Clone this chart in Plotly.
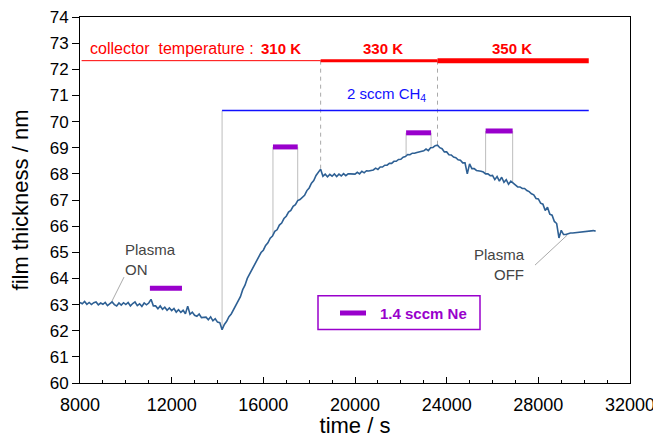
import plotly.graph_objects as go

# ---------------- data ----------------
time_s = list(range(8000, 30501, 100))
thickness_nm = [
    63.08, 63.03, 63.12, 63.01, 63.08, 63.00, 63.07, 63.10, 62.99, 63.06,
    63.01, 63.08, 62.96, 63.05, 63.10, 63.00, 62.95, 63.06, 62.98, 63.07,
    63.00, 63.08, 62.95, 63.04, 63.10, 62.96, 63.03, 62.93, 63.06, 62.99,
    63.06, 63.20, 62.95, 62.95, 62.84, 62.95, 62.82, 62.90, 62.78, 62.87,
    62.77, 62.85, 62.71, 62.80, 62.70, 62.78, 62.65, 62.94, 62.63, 62.71,
    62.59, 62.55, 62.64, 62.50, 62.52, 62.52, 62.42, 62.53, 62.38, 62.46,
    62.33, 62.31, 62.04, 62.24, 62.36, 62.54, 62.64, 62.81, 62.93, 63.14,
    63.30, 63.57, 63.74, 64.00, 64.16, 64.37, 64.50, 64.68, 64.80, 64.99,
    65.08, 65.26, 65.36, 65.54, 65.62, 65.80, 65.86, 66.04, 66.12, 66.29,
    66.38, 66.54, 66.60, 66.76, 66.82, 66.98, 67.02, 67.12, 67.18, 67.36,
    67.46, 67.64, 67.74, 67.94, 68.04, 68.18, 67.91, 67.99, 67.89, 67.98,
    67.91, 68.00, 67.90, 67.99, 67.92, 68.01, 67.93, 68.00, 68.00, 67.99,
    67.99, 68.06, 68.00, 68.10, 68.04, 68.12, 68.11, 68.13, 68.15, 68.22,
    68.17, 68.26, 68.26, 68.33, 68.33, 68.40, 68.40, 68.48, 68.48, 68.55,
    68.56, 68.64, 68.66, 68.74, 68.73, 68.79, 68.79, 68.82, 68.84, 68.86,
    68.88, 68.95, 68.89, 69.00, 69.01, 69.08, 69.10, 69.00, 68.96, 68.84,
    68.84, 68.73, 68.72, 68.64, 68.62, 68.54, 68.52, 68.42, 68.42, 68.00,
    68.38, 68.20, 68.20, 68.13, 68.12, 68.10, 68.07, 68.00, 68.00, 67.93,
    67.94, 67.78, 67.90, 67.72, 67.87, 67.68, 67.78, 67.60, 67.72, 67.64,
    67.57, 67.50, 67.50, 67.44, 67.44, 67.36, 67.32, 67.24, 67.20, 67.06,
    67.04, 66.88, 66.84, 66.60, 66.72, 66.46, 66.42, 66.18, 66.10, 65.55,
    65.84, 65.68, 65.68, 65.72, 65.74, 65.74, 65.75, 65.75, 65.77, 65.77,
    65.78, 65.78, 65.80, 65.82, 65.83, 65.81,
]

# collector temperature periods
temp_labels = ["310 K", "330 K", "350 K"]
temp_start = [8070, 18500, 23600]
temp_end = [18500, 23600, 30200]
temp_level = 72.33
temp_widths = [1, 3, 5]
temp_label_x = [16750, 21240, 26850]
temp_label_y = 72.80

# CH4 flow
ch4_start, ch4_end, ch4_level = 14200, 30200, 70.42
ch4_onset_bottom = 62.04

# period boundaries (dashed)
boundary_t = [18500, 23600]
boundary_bottom = [68.18, 69.10]

# Ne pulses
ne_start = [11050, 16420, 22230, 25700]
ne_end = [12450, 17500, 23320, 26880]
ne_level = [63.62, 69.03, 69.57, 69.64]
# drop lines below the Ne bars
drop_t = [16420, 17500, 22230, 23320, 25700, 26880]
drop_top = [69.03, 69.03, 69.57, 69.57, 69.64, 69.64]
drop_bottom = [65.66, 66.96, 68.69, 68.99, 68.02, 67.67]

# plasma labels
plasma_on_line_x = [9383, 9920]
plasma_on_line_y = [63.11, 64.05]
plasma_off_line_x = [27855, 29265]
plasma_off_line_y = [64.51, 65.66]

x_ticks = [8000, 12000, 16000, 20000, 24000, 28000, 32000]
y_ticks = list(range(60, 75))

FONT = "Liberation Sans, Arial, Helvetica, sans-serif"
RED = "#FF0000"
BLUE = "#1010FF"
PURPLE = "#9900CC"
CURVE = "#2E6094"
GRAY = "#BDBDBD"

# the page body has an 8px margin: the figure div sits at (8, 8)
PX0, PY0 = 8, 8
PLOT_L, PLOT_R, PLOT_T, PLOT_B = 80, 630, 17, 383   # in page pixels
FIG_W, FIG_H = 661 - PX0, 438 - PY0


def px(xp):
    return (xp - PLOT_L) / (PLOT_R - PLOT_L)


def py(yp):
    return (PLOT_B - yp) / (PLOT_B - PLOT_T)


fig = go.Figure()

# guide lines
fig.add_trace(go.Scatter(x=[ch4_start, ch4_start], y=[ch4_level, ch4_onset_bottom], mode="lines",
                         line=dict(color=GRAY, width=1), showlegend=False, hoverinfo="skip"))
for t, b in zip(boundary_t, boundary_bottom):
    fig.add_trace(go.Scatter(x=[t, t], y=[temp_level, b], mode="lines",
                             line=dict(color="#AAAAAA", width=1, dash="4px,4px"),
                             showlegend=False, hoverinfo="skip"))
for t, a, b in zip(drop_t, drop_top, drop_bottom):
    fig.add_trace(go.Scatter(x=[t, t], y=[a, b], mode="lines",
                             line=dict(color=GRAY, width=1), showlegend=False, hoverinfo="skip"))
fig.add_trace(go.Scatter(x=plasma_on_line_x, y=plasma_on_line_y, mode="lines",
                         line=dict(color="#AAAAAA", width=1), showlegend=False, hoverinfo="skip"))
fig.add_trace(go.Scatter(x=plasma_off_line_x, y=plasma_off_line_y, mode="lines",
                         line=dict(color="#AAAAAA", width=1), showlegend=False, hoverinfo="skip"))

# temperature bars
for s, e, w in zip(temp_start, temp_end, temp_widths):
    fig.add_trace(go.Scatter(x=[s, e], y=[temp_level, temp_level], mode="lines",
                             line=dict(color=RED, width=w), showlegend=False, hoverinfo="skip"))
# CH4 line
fig.add_trace(go.Scatter(x=[ch4_start, ch4_end], y=[ch4_level, ch4_level], mode="lines",
                         line=dict(color=BLUE, width=1.5), showlegend=False, hoverinfo="skip"))

# thickness curve
fig.add_trace(go.Scatter(x=time_s, y=thickness_nm, mode="lines",
                         line=dict(color=CURVE, width=1.6), showlegend=False))

# Ne bars
for s, e, lv in zip(ne_start, ne_end, ne_level):
    fig.add_trace(go.Scatter(x=[s, e], y=[lv, lv], mode="lines",
                             line=dict(color=PURPLE, width=5), showlegend=False, hoverinfo="skip"))

ann = []
ann.append(dict(x=8349, y=temp_label_y, text="collector  temperature :", xanchor="left",
                showarrow=False, font=dict(family=FONT, size=16, color=RED)))
for lab, lx in zip(temp_labels, temp_label_x):
    ann.append(dict(x=lx, y=temp_label_y, text="<b>%s</b>" % lab, showarrow=False,
                    font=dict(family=FONT, size=15, color=RED)))
ann.append(dict(x=21380, y=71.05, text="2 sccm CH<sub>4</sub>", showarrow=False,
                font=dict(family=FONT, size=15, color=BLUE)))
ann.append(dict(x=9862, y=64.74, text="Plasma<br>ON", xanchor="left", align="left",
                showarrow=False, font=dict(family=FONT, size=15, color="#444444")))
ann.append(dict(x=27490, y=64.55, text="Plasma<br>OFF", xanchor="right", align="right",
                showarrow=False, font=dict(family=FONT, size=15, color="#444444")))
# legend box text
ann.append(dict(x=px(378), y=py(313), xref="paper", yref="paper",
                text="<b>1.4 sccm Ne</b>", xanchor="left", yanchor="middle", showarrow=False,
                font=dict(family=FONT, size=15, color=PURPLE)))

shapes = [
    dict(type="rect", xref="paper", yref="paper",
         x0=px(318), x1=px(480), y0=py(329.5), y1=py(295.7),
         line=dict(color=PURPLE, width=1.5), fillcolor="rgba(0,0,0,0)"),
    dict(type="line", xref="paper", yref="paper",
         x0=px(340), x1=px(366), y0=py(313), y1=py(313),
         line=dict(color=PURPLE, width=5)),
]

fig.update_layout(
    width=FIG_W, height=FIG_H,
    margin=dict(l=PLOT_L - PX0, r=FIG_W + PX0 - PLOT_R, t=PLOT_T - PY0, b=FIG_H + PY0 - PLOT_B),
    plot_bgcolor="white", paper_bgcolor="white",
    font=dict(family=FONT, color="black"),
    annotations=ann, shapes=shapes,
    showlegend=False,
    xaxis=dict(range=[8000, 32000], tickvals=x_ticks, ticktext=[str(v) for v in x_ticks],
               ticks="inside", ticklen=6, tickwidth=1, tickcolor="black",
               minor=dict(dtick=1000, tick0=8000, ticks="inside", ticklen=3, tickcolor="black"),
               showline=True, linecolor="black", linewidth=1, mirror=True,
               showgrid=False, zeroline=False, automargin=False,
               ticklabeloverflow="allow", ticklabelstandoff=5,
               tickfont=dict(size=18, family=FONT),
               title=dict(text="time / s", font=dict(size=22, family=FONT), standoff=8)),
    yaxis=dict(range=[60, 74], tickvals=y_ticks,
               ticks="outside", ticklen=7, tickwidth=1, tickcolor="black",
               showline=True, linecolor="black", linewidth=1, mirror=True,
               showgrid=False, zeroline=False, automargin=False,
               ticklabeloverflow="allow",
               tickfont=dict(size=17, family=FONT),
               title=dict(text="film thickness / nm", font=dict(size=22, family=FONT), standoff=14)),
)

fig.write_html("out.html")
